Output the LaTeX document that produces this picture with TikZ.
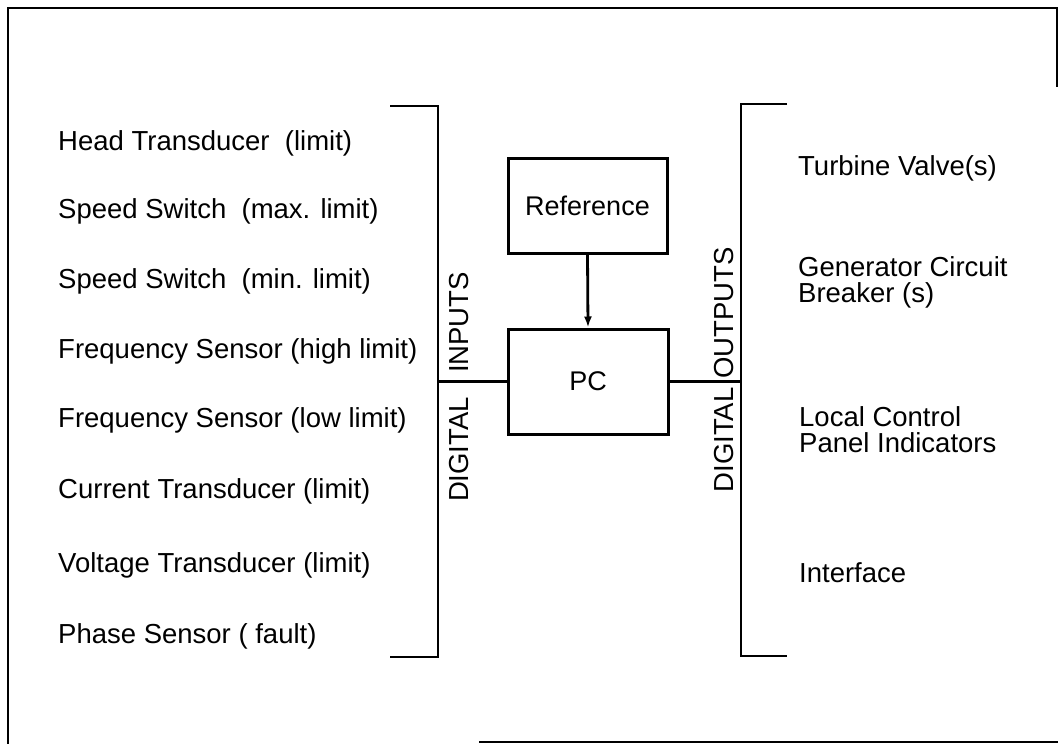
\documentclass[tikz,border=0pt]{standalone}
\usepackage{fontspec}
\setmainfont{Liberation Sans}
\usetikzlibrary{arrows.meta}
\begin{document}
\begin{tikzpicture}[x=1pt,y=-1pt,
  lbl/.style={anchor=base west,inner sep=0pt,font=\fontsize{27.5}{26}\selectfont},
  mlbl/.style={anchor=north west,inner sep=0pt,align=left,font=\fontsize{27.5}{26}\selectfont},
  vlbl/.style={anchor=base,rotate=90,inner sep=0pt,font=\fontsize{27.5}{30}\selectfont},
  blk/.style={draw,line width=3pt,inner sep=0pt,font=\fontsize{27}{30}\selectfont},
  brk/.style={line width=2.6pt},
  frm/.style={line width=2.6pt},
  conn/.style={line width=2.8pt}]
\useasboundingbox (0,0) rectangle (1058,744);

% frame (as scanned)
\coordinate (f1) at (8,744);
\coordinate (f2) at (8,8);
\coordinate (f3) at (1057,8);
\coordinate (f4) at (1057,87);
\coordinate (f5) at (479,742);
\coordinate (f6) at (1058,742);
\draw[frm] (f1) -- (f2) -- (f3) -- (f4);
\draw[frm] (f5) -- (f6);

% boxes
\node[blk,minimum width=159pt,minimum height=95pt] (ref) at (587.5,205.5) {Reference};
\node[blk,minimum width=160pt,minimum height=105pt] (pc) at (588,381.5) {PC};
\draw[conn,-{Latex[length=11pt,width=8pt]}] (ref.south) -- (pc.north);

% left bracket
\coordinate (lt1) at (390,106);
\coordinate (lt2) at (438,106);
\coordinate (lb2) at (438,657);
\coordinate (lb1) at (390,657);
\coordinate (lm) at (438,381.5);
\draw[brk] (lt1) -- (lt2) -- (lb2) -- (lb1);
\draw[conn] (lm) -- (pc.west);

% right bracket
\coordinate (rt1) at (787,104);
\coordinate (rt2) at (741,104);
\coordinate (rb2) at (741,656);
\coordinate (rb1) at (787,656);
\coordinate (rm) at (741,381.5);
\draw[brk] (rt1) -- (rt2) -- (rb2) -- (rb1);
\draw[conn] (pc.east) -- (rm);

% vertical labels
\node[vlbl] (din) at (468,449.5) {DIGITAL};
\node[vlbl] (inp) at (468,322.5) {INPUTS};
\node[vlbl] (dout) at (733,440) {DIGITAL};
\node[vlbl] (outp) at (733,313) {OUTPUTS};

% inputs
\node[lbl] (i1) at (58,150) {Head Transducer\ \ (limit)};
\node[lbl] (i2) at (58,218) {Speed Switch\ \ (max. limit)};
\node[lbl] (i3) at (58,288) {Speed Switch\ \ (min. limit)};
\node[lbl] (i4) at (58,358) {Frequency Sensor (high limit)};
\node[lbl] (i5) at (58,427) {Frequency Sensor (low limit)};
\node[lbl] (i6) at (58,498) {Current Transducer (limit)};
\node[lbl] (i7) at (58,572) {Voltage Transducer (limit)};
\node[lbl] (i8) at (58,643) {Phase Sensor ( fault)};

% outputs
\node[lbl] (o1) at (798,175) {Turbine Valve(s)};
\node[mlbl] (o2) at (798,256.5) {Generator Circuit\\Breaker (s)};
\node[mlbl] (o3) at (799,406.5) {Local Control\\Panel Indicators};
\node[lbl] (o4) at (799,582) {Interface};
\end{tikzpicture}
\end{document}
